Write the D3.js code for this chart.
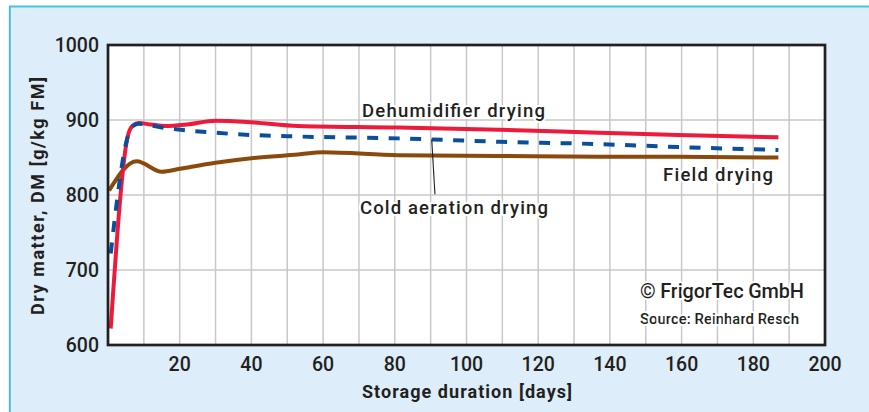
<!DOCTYPE html>
<html>
<head>
<meta charset="utf-8">
<script src="https://cdn.jsdelivr.net/npm/d3@7"></script>
<style>
  html, body { margin: 0; padding: 0; background: #ffffff; }
  svg { display: block; }
  text { font-family: Roboto, "Noto Sans", sans-serif; fill: #231f20; }
</style>
</head>
<body>
<svg id="chart" width="869" height="412"></svg>
<script>
// ---- data ----
const xTicks = [20, 40, 60, 80, 100, 120, 140, 160, 180, 200];
const yTicks = [600, 700, 800, 900, 1000];
const xGrid = [10, 20, 30, 40, 50, 60, 70, 80, 90, 100, 110, 120, 130, 140, 150, 160, 170, 180, 190];
const yGrid = [700, 800, 900];

const dehumDays   = [0.75, 5.6, 7, 8.5, 12, 16, 22, 30, 40, 53, 81, 109, 137, 159, 187];
const dehumValues = [622, 880, 893, 896, 894, 892, 894, 899, 897, 892, 890, 887, 883, 880, 877];

const coldDays    = [0.75, 5.8, 7, 8.5, 15, 30, 40, 53, 81, 109, 136, 159, 187];
const coldValues  = [722, 882, 892, 895, 890, 883, 880, 878, 875.5, 871, 868, 864, 860];

const fieldDays   = [0.3, 8, 15, 20, 30, 40, 53, 60, 81, 109, 137, 159, 187];
const fieldValues = [806, 845, 831, 835, 843, 849, 854, 857, 853, 852, 851, 851, 850];

const seriesNames = ["Dehumidifier drying", "Cold aeration drying", "Field drying"];
const xTitle = "Storage duration [days]";
const yTitle = "Dry matter, DM [g/kg FM]";
const copyright = "© FrigorTec GmbH";
const sourceText = "Source: Reinhard Resch";

// ---- drawing ----
const svg = d3.select("#chart");
const W = 869, H = 412;
const plot = { left: 108, right: 825, top: 45, bottom: 345 };

// panel background
svg.append("rect").attr("x", 10).attr("y", 7).attr("width", W - 10).attr("height", H - 7)
  .attr("fill", "#ddeefa");
svg.append("line").attr("x1", 9).attr("x2", W).attr("y1", 6.5).attr("y2", 6.5)
  .attr("stroke", "#4cc0ea").attr("stroke-width", 1.8);
svg.append("line").attr("x1", 9.8).attr("x2", 9.8).attr("y1", 6).attr("y2", H)
  .attr("stroke", "#3fb6e6").attr("stroke-width", 1.8);

const x = d3.scaleLinear().domain([0, 200]).range([plot.left, plot.right]);
const y = d3.scaleLinear().domain([600, 1000]).range([plot.bottom, plot.top]);

svg.append("rect").attr("x", plot.left).attr("y", plot.top)
  .attr("width", plot.right - plot.left).attr("height", plot.bottom - plot.top)
  .attr("fill", "#ffffff");

// grid
const g = svg.append("g");
g.selectAll("line.vg").data(xGrid).join("line")
  .attr("x1", d => x(d)).attr("x2", d => x(d))
  .attr("y1", plot.top).attr("y2", plot.bottom)
  .attr("stroke", "#c8c8cc").attr("stroke-width", 1.5);
g.selectAll("line.hg").data(yGrid).join("line")
  .attr("x1", plot.left).attr("x2", plot.right)
  .attr("y1", d => y(d)).attr("y2", d => y(d))
  .attr("stroke", "#c8c8cc").attr("stroke-width", 1.5);

// annotation labels with white halo
function label(txt, xx, yy, size, weight, len) {
  const t = svg.append("text").attr("x", xx).attr("y", yy)
    .attr("font-size", size).attr("font-weight", weight)
    .attr("stroke", "#ffffff").attr("stroke-width", 4).attr("paint-order", "stroke")
    .attr("stroke-linejoin", "round")
    .text(txt);
  if (len) t.attr("textLength", len).attr("lengthAdjust", "spacing");
  return t;
}

// series lines
const line = d3.line().x(d => x(d[0])).y(d => y(d[1])).curve(d3.curveMonotoneX);
const dehum = d3.zip(dehumDays, dehumValues);
const cold = d3.zip(coldDays, coldValues);
const field = d3.zip(fieldDays, fieldValues);

svg.append("path").datum(field).attr("d", line)
  .attr("fill", "none").attr("stroke", "#8a4a0c").attr("stroke-width", 4).attr("stroke-linejoin", "round");
svg.append("path").datum(dehum).attr("d", line)
  .attr("fill", "none").attr("stroke", "#ec1b3b").attr("stroke-width", 4).attr("stroke-linejoin", "round");
svg.append("path").datum(cold).attr("d", line)
  .attr("fill", "none").attr("stroke", "#0a4f9d").attr("stroke-width", 4)
  .attr("stroke-dasharray", "11,10.5");

// pointer line for cold aeration
svg.append("line")
  .attr("x1", x(90.3)).attr("y1", y(874))
  .attr("x2", x(91.2)).attr("y2", y(801))
  .attr("stroke", "#231f20").attr("stroke-width", 1.1);

label(seriesNames[0], 362, 117, 18.5, 500, 183);
label(seriesNames[1], 360, 214, 18.5, 500, 188);
label(seriesNames[2], 663, 181, 18.5, 500, 110);
label(copyright, 640, 297.5, 20, 500, 164);
label(sourceText, 640, 324, 15, 500, 159);

// plot frame
svg.append("rect").attr("x", plot.left).attr("y", plot.top)
  .attr("width", plot.right - plot.left).attr("height", plot.bottom - plot.top)
  .attr("fill", "none").attr("stroke", "#231f20").attr("stroke-width", 2.7);

// tick labels
svg.selectAll("text.yt").data(yTicks).join("text")
  .attr("x", 99).attr("y", d => y(d)).attr("dy", "0.36em")
  .attr("text-anchor", "end").attr("font-size", 19.5).attr("font-weight", 500)
  .text(d => d);
svg.selectAll("text.xt").data(xTicks).join("text")
  .attr("x", d => x(d)).attr("y", 370.5)
  .attr("text-anchor", "middle").attr("font-size", 19.5).attr("font-weight", 500)
  .text(d => d);

// axis titles
svg.append("text").attr("x", 467).attr("y", 398)
  .attr("text-anchor", "middle").attr("font-size", 18).attr("font-weight", 700)
  .attr("textLength", 210).attr("lengthAdjust", "spacing")
  .text(xTitle);
svg.append("text").attr("transform", "translate(44,196) rotate(-90)")
  .attr("text-anchor", "middle").attr("font-size", 18).attr("font-weight", 700)
  .attr("textLength", 238).attr("lengthAdjust", "spacing")
  .text(yTitle);
</script>
</body>
</html>
